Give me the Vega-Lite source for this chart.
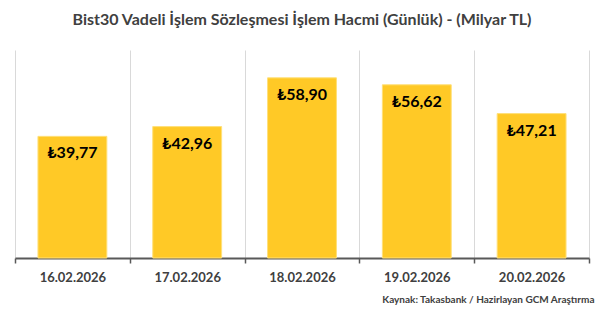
{
  "$schema": "https://vega.github.io/schema/vega-lite/v6.json",
  "autosize": {"type": "none"},
  "width": 574,
  "height": 208,
  "padding": {"left": 15, "top": 50, "right": 14, "bottom": 61},
  "background": "white",
  "config": {
    "view": {"stroke": null},
    "font": "Lato"
  },
  "title": {
    "text": "Bist30 Vadeli İşlem Sözleşmesi İşlem Hacmi (Günlük) - (Milyar TL)",
    "font": "Lato",
    "fontSize": 16,
    "fontWeight": "bold",
    "color": "#404040",
    "anchor": "middle",
    "offset": 22
  },
  "data": {
    "values": [
      {"tarih": "16.02.2026", "hacim": 39.77, "etiket": "₺39,77"},
      {"tarih": "17.02.2026", "hacim": 42.96, "etiket": "₺42,96"},
      {"tarih": "18.02.2026", "hacim": 58.90, "etiket": "₺58,90"},
      {"tarih": "19.02.2026", "hacim": 56.62, "etiket": "₺56,62"},
      {"tarih": "20.02.2026", "hacim": 47.21, "etiket": "₺47,21"}
    ]
  },
  "encoding": {
    "x": {
      "field": "tarih",
      "type": "nominal",
      "sort": null,
      "scale": {"paddingInner": 0, "paddingOuter": 0},
      "axis": {
        "title": "Kaynak: Takasbank / Hazirlayan GCM Araştırma",
        "titleFont": "Lato",
        "titleFontSize": 10,
        "titleFontWeight": "bold",
        "titleColor": "#404040",
        "titleAnchor": "end",
        "titleAlign": "right",
        "titleX": 579,
        "titlePadding": 10,
        "labelAngle": 0,
        "labelFont": "Lato",
        "labelFontSize": 13,
        "labelFontWeight": "bold",
        "labelColor": "#404040",
        "labelPadding": 8,
        "tickBand": "extent",
        "grid": true,
        "gridColor": "#d9d9d9",
        "gridWidth": 1,
        "domainColor": "#595959",
        "domainWidth": 2,
        "tickColor": "#595959",
        "tickWidth": 1.5,
        "tickSize": 5
      }
    },
    "y": {
      "field": "hacim",
      "type": "quantitative",
      "scale": {"domain": [0, 68], "nice": false},
      "axis": null
    }
  },
  "layer": [
    {
      "mark": {"type": "bar", "color": "#FFC926", "stroke": "#FFE07A", "strokeWidth": 1, "width": {"band": 0.6}}
    },
    {
      "mark": {"type": "text", "baseline": "middle", "align": "center", "dy": 17, "font": "Lato", "fontSize": 16, "fontWeight": "bold", "color": "#000000"},
      "encoding": {"text": {"field": "etiket"}}
    }
  ]
}
